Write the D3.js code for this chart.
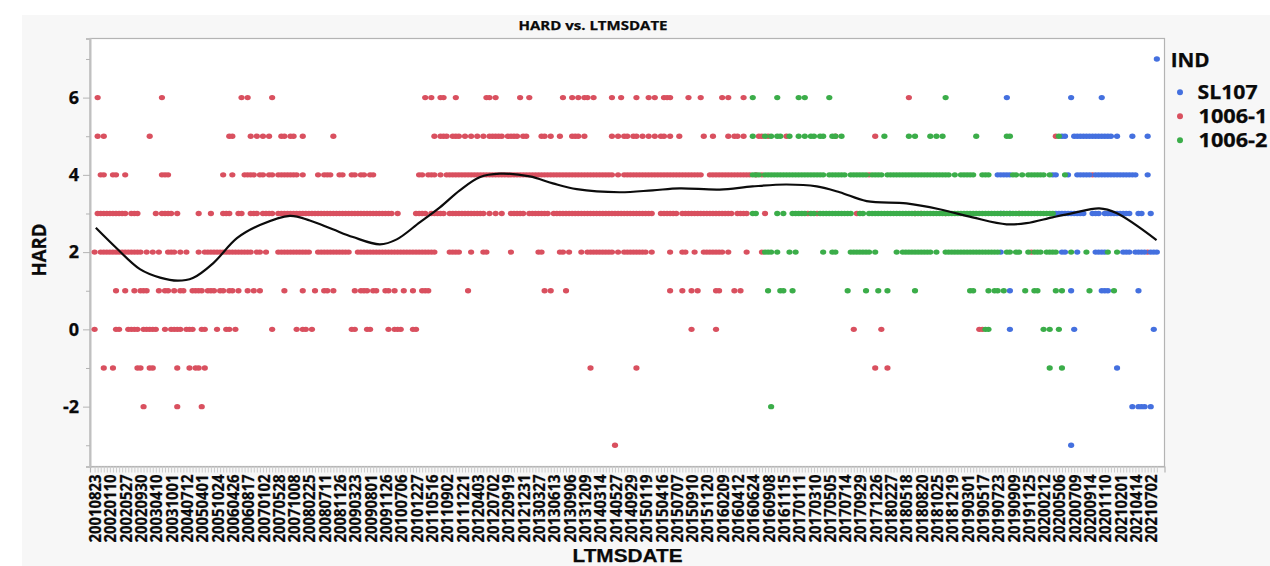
<!DOCTYPE html>
<html><head><meta charset="utf-8">
<script src="https://cdn.jsdelivr.net/npm/d3@7"></script>
<style>
html,body{margin:0;padding:0;background:#fff}
svg{display:block}
text{font-family:"Open Sans",sans-serif;font-weight:700;fill:#0a0a0a;stroke:#0a0a0a;stroke-width:.25px}
</style></head><body><div id="c"></div>
<script>
const title="HARD vs. LTMSDATE", xTitle="LTMSDATE", yTitle="HARD", legendTitle="IND";
const legendNames=["SL107","1006-1","1006-2"];
const colors=["#4470df","#d9505f","#3bad49"];
const tickLabels=["20010823","20020110","20020527","20020930","20030410","20031001","20040712","20050401","20051024","20060426","20060817","20070102","20070528","20071008","20080225","20080711","20081126","20090323","20090801","20091126","20100706","20101227","20110516","20110902","20111221","20120403","20120702","20120919","20121231","20130327","20130613","20130906","20131209","20140314","20140527","20140929","20150119","20150416","20150707","20150910","20151120","20160209","20160412","20160624","20160908","20161115","20170111","20170310","20170505","20170714","20170929","20171226","20180227","20180518","20180820","20181025","20181219","20190301","20190517","20190723","20190909","20191125","20200212","20200506","20200709","20200914","20201110","20210201","20210414","20210702"];
const hardLevels=[7,6,5,4,3,2,1,0,-1,-2,-3];
// each series: for each HARD level, the positions (row number along the LTMSDATE axis) that have a point
const sl107=[
[347],
[298,319,329],
[316,317,320,321,322,323,324,325,326,327,328,329,330,331,332,334,339,344],
[295,296,297,298,299,313,314,318,321,322,323,324,325,327,328,329,330,331,332,333,334,335,336,337,338,339,340,344],
[296,297,299,314,315,316,317,318,319,320,321,322,323,326,327,328,330,331,332,333,334,335,336,337,338,341,342,345],
[296,316,317,321,327,328,329,330,336,337,338,340,341,342,343,345,346,347],
[299,319,329,330,331,341],
[299,320,346],
[334],
[339,341,342,343,345],
[319]];
const s1006_1=[
[],
[1,22,48,50,58,108,110,113,114,118,128,129,131,139,142,153,156,158,160,161,163,169,172,177,181,183,186,187,188,194,198,205,207,212,266],
[1,3,18,44,45,51,53,55,57,61,62,64,65,68,78,111,113,114,115,117,118,119,121,123,125,127,129,130,131,132,133,135,136,137,138,140,141,146,147,149,152,156,157,158,160,169,171,173,174,176,177,179,181,183,185,186,188,191,199,202,207,209,210,212,217,218,220,226,242,255,314],
[2,3,6,7,10,22,23,24,42,45,49,50,51,52,54,55,57,58,60,61,62,63,64,65,66,68,73,75,76,77,80,81,84,85,87,88,90,91,106,107,109,110,111,113,115,116,117,118,119,120,121,122,123,124,125,126,127,128,129,130,131,132,133,134,135,136,137,138,139,140,141,142,143,144,145,146,147,148,149,150,151,152,153,154,155,156,157,158,159,160,161,162,163,164,165,166,167,168,169,171,173,174,175,176,177,178,179,180,181,182,183,184,185,186,187,188,189,190,191,192,193,194,195,196,197,198,201,202,203,204,205,206,207,208,209,210,211,212,213,214,216,218,253,326],
[1,2,3,4,5,6,7,8,9,10,12,13,14,20,22,23,24,25,27,34,38,42,43,44,47,48,51,52,53,55,56,57,58,60,61,62,63,64,65,66,67,68,69,70,71,72,73,74,75,76,77,78,79,80,81,82,83,84,85,86,87,88,89,90,91,92,93,94,95,96,97,99,105,106,107,108,110,111,112,113,114,116,117,118,119,120,121,122,123,124,125,126,127,129,131,133,136,137,138,139,140,142,143,144,145,146,147,148,150,151,152,153,154,155,156,157,158,159,160,161,162,163,164,165,166,167,168,169,170,171,172,173,174,175,176,177,178,179,180,181,182,185,186,187,188,189,190,192,193,194,195,196,197,198,199,200,201,202,203,204,205,206,207,208,210,211,212,213,219,233,236,249,268,270,278,302],
[0,2,3,4,5,6,7,8,9,10,11,12,13,14,15,17,19,21,24,25,26,28,30,34,36,37,38,39,40,41,42,43,44,45,46,47,48,49,50,51,53,54,56,60,61,62,63,64,65,66,67,68,69,70,73,74,75,76,77,78,79,80,81,82,83,86,87,88,89,90,91,92,93,94,95,96,97,98,99,100,101,102,103,104,105,106,107,108,109,110,111,116,117,118,119,123,127,128,136,145,146,152,153,155,159,161,162,163,164,165,166,167,168,169,171,173,174,175,176,177,178,179,180,182,188,192,193,196,199,200,201,202,203,204,205,207,213,218,306,344],
[7,10,13,15,16,17,21,23,24,26,28,29,32,33,34,35,37,38,39,41,42,44,45,47,50,52,54,62,68,72,75,76,78,85,87,88,89,91,92,95,96,98,101,104,107,108,109,122,147,149,154,188,192,195,197,203,204,209,211],
[0,7,8,11,12,13,14,16,17,18,19,20,23,25,26,27,28,30,31,32,35,36,40,43,44,46,58,66,68,69,71,84,85,89,90,96,98,99,100,104,105,195,203,248,257,289,290],
[3,6,14,15,18,19,27,31,33,34,36,162,177,255,259],
[16,27,35],
[170]];
const s1006_2=[
[],
[215,223,230,232,240,278],
[215,219,221,223,224,227,230,232,234,235,237,238,241,242,244,258,266,268,273,275,277,288,298,299,315],
[215,216,217,219,220,221,222,223,224,225,226,227,228,229,230,231,232,233,234,235,236,237,238,240,241,242,243,244,245,247,248,249,250,251,252,254,255,256,257,259,260,261,262,263,264,265,266,267,268,269,270,271,272,273,274,275,276,277,278,279,281,283,284,285,286,287,290,291,292,300,301,303,305,306,307,308,309,310,312,317],
[215,216,223,225,228,229,230,231,232,234,235,237,238,239,240,241,242,243,244,245,246,247,250,251,253,254,255,256,257,258,259,260,261,262,263,264,265,266,267,268,269,270,271,272,273,274,275,276,277,278,279,280,281,282,283,284,285,286,287,288,289,290,291,292,293,294,295,296,297,298,299,300,301,302,303,304,305,306,307,308,309,310,311,312,313],
[219,220,221,223,227,229,238,241,242,247,248,249,250,251,252,253,255,262,264,265,266,267,268,269,270,271,272,273,275,278,279,280,281,282,283,284,285,286,287,288,289,290,291,292,293,294,295,298,299,301,302,305,307,308,309,311,312,313,314,319,324,331,334],
[220,224,225,228,246,252,256,259,268,286,287,292,294,295,297,304,307,308,314,316,325,333],
[291,292,310,312,315],
[312,316],
[221],
[]];
const fitRow=[0.4,7.2,14.8,21.4,27.2,32.1,38.7,46.5,54,63.8,70.3,77.8,84.4,93.2,98.7,106.2,112.8,119.3,125.8,132.4,142.1,149.7,157.5,171.5,182.3,191.1,204.2,214.9,226,235.9,243.4,252.2,265.2,276,286.8,297.9,304.4,312.9,319.5,328.2,333.8,346.9];
const fitHard=[2.63,2.10,1.56,1.34,1.26,1.33,1.71,2.36,2.70,2.94,2.82,2.59,2.39,2.20,2.33,2.77,3.16,3.60,3.94,4.03,3.96,3.78,3.63,3.55,3.60,3.65,3.62,3.70,3.75,3.70,3.55,3.32,3.26,3.11,2.90,2.72,2.75,2.90,3.01,3.13,3.01,2.31];

const W=1270,H=566,L=90,R=1164.5,T=38.5,B=466.5;
const svg=d3.select("#c").append("svg").attr("width",W).attr("height",H);
svg.append("rect").attr("x",22).attr("y",15).attr("width",W-22).attr("height",H-15).attr("fill","#f7f7f7");
svg.append("rect").attr("x",L).attr("y",T).attr("width",R-L).attr("height",B-T).attr("fill","#fff").attr("stroke","#b4b4b4").attr("stroke-width",1.2);

const x=d3.scaleLinear().domain([-1.5,349.5]).range([L,R]);
const y=d3.scaleLinear().domain([-3.55,7.53]).range([B,T]);

// axes
const rows=d3.range(0,348);
const gx=svg.append("g").attr("transform",`translate(0,${B})`)
  .call(d3.axisBottom(x).tickValues(rows).tickSize(6).tickPadding(2)
    .tickFormat(i=>i%5===0?tickLabels[i/5]||"":""));
gx.select(".domain").attr("stroke","#b4b4b4").attr("stroke-width",1.2);
gx.selectAll(".tick line").attr("stroke","#cdcdcd").attr("stroke-width",1);
gx.selectAll(".tick text").attr("transform","rotate(-90)").attr("text-anchor","end")
  .attr("x",-8).attr("y",0.5).attr("dy","0.36em").attr("font-size",15.5)
  .attr("textLength",d=>d%5===0&&tickLabels[d/5]?68:null).attr("lengthAdjust","spacingAndGlyphs")
  .style("font-family",'"Open Sans",sans-serif').style("font-weight",700);

const gy=svg.append("g").attr("transform",`translate(${L},0)`)
  .call(d3.axisLeft(y).tickValues(d3.range(-3,8)).tickSize(4).tickPadding(4)
    .tickFormat(v=>v%2===0?String(v):""));
gy.select(".domain").attr("stroke","#c0c0c0").attr("stroke-width",2);
gy.selectAll(".tick line").attr("stroke","#b4b4b4").attr("x2",d=>d%2===0?-7:-4);
gy.selectAll(".tick text").attr("font-size",18).attr("x",-11).style("font-family",'"Open Sans",sans-serif').style("font-weight",700);

// points
function flatten(s){const o=[];s.forEach((r,k)=>r.forEach(i=>o.push({row:i,hard:hardLevels[k]})));return o;}
[[s1006_1,colors[1]],[sl107,colors[0]],[s1006_2,colors[2]]].forEach(([s,c])=>{
  svg.append("g").selectAll("ellipse").data(flatten(s)).join("ellipse")
    .attr("cx",d=>x(d.row)).attr("cy",d=>y(d.hard)).attr("rx",3.1).attr("ry",2.7).attr("fill",c);
});

// fit
const line=d3.line().x(d=>x(d[0])).y(d=>y(d[1])).curve(d3.curveCatmullRom.alpha(0.5));
svg.append("path").attr("d",line(d3.zip(fitRow,fitHard))).attr("fill","none").attr("stroke","#0c0c0c").attr("stroke-width",2.2);

// titles
function t(str,px,py,size,len,anchor,rot,font){
  const e=svg.append("text").text(str).attr("font-size",size).attr("text-anchor",anchor||"start")
    .attr("textLength",len).attr("lengthAdjust","spacingAndGlyphs");
  if(font)e.style("font-family",font);
  e.attr("transform",`translate(${px},${py})`+(rot?` rotate(${rot})`:""));
}
t(title,593,30,12.5,149,"middle");
t(xTitle,627.5,562,19,110,"middle",0,'"Liberation Sans",sans-serif');
t(yTitle,46,250,19,53,"middle",-90);
t(legendTitle,1170.7,66.5,19,39);
legendNames.forEach((n,i)=>{
  const py=[92.3,116.3,140.3][i];
  svg.append("circle").attr("cx",1180).attr("cy",py).attr("r",3).attr("fill",colors[i]);
  t(n,1197.5+(i?1:0),py+6.5,19,i?69:60);
});
</script></body></html>
